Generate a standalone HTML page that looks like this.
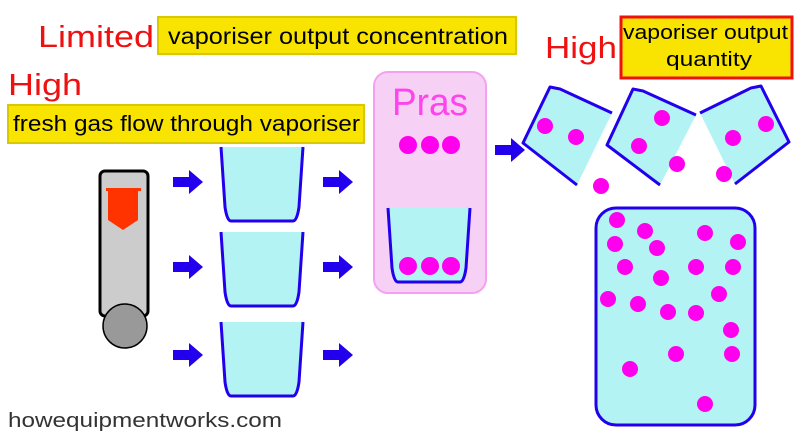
<!DOCTYPE html>
<html><head><style>body{margin:0;background:#fff}svg{display:block}text{font-family:"Liberation Sans",sans-serif}</style></head><body>
<svg width="800" height="437" viewBox="0 0 800 437" xmlns="http://www.w3.org/2000/svg">
<defs>
<path id="arr" d="M0,-5 H16 V-12 L30,0 L16,12 V5 H0 Z" fill="#2200ee"/>
<g id="cup"><path d="M0,0 L82,0 L78,60 Q76,74 72,74 L10,74 Q6,74 4,60 Z" fill="#b3f3f3"/><path d="M0,0 L4,60 Q6,74 10,74 L72,74 Q76,74 78,60 L82,0" fill="none" stroke="#2200ee" stroke-width="3"/></g>
</defs>
<text x="38" y="47" font-size="31" fill="#ee1111" textLength="116" lengthAdjust="spacingAndGlyphs">Limited</text>
<rect x="158" y="17" width="358" height="37" fill="#f8e400" stroke="#d8c800" stroke-width="2"/>
<text x="168" y="44" font-size="23" textLength="340" lengthAdjust="spacingAndGlyphs">vaporiser output concentration</text>
<text x="8" y="95" font-size="31" fill="#ee1111" textLength="74" lengthAdjust="spacingAndGlyphs">High</text>
<rect x="8" y="105" width="356" height="38" fill="#f8e400" stroke="#d8c800" stroke-width="2"/>
<text x="13" y="131" font-size="22" textLength="347" lengthAdjust="spacingAndGlyphs">fresh gas flow through vaporiser</text>
<text x="545" y="58" font-size="31" fill="#ee1111" textLength="72" lengthAdjust="spacingAndGlyphs">High</text>
<rect x="621" y="17" width="171" height="61" fill="#f8e400" stroke="#ee1111" stroke-width="3"/>
<text x="623" y="39" font-size="20" textLength="165" lengthAdjust="spacingAndGlyphs">vaporiser output</text>
<text x="666" y="66" font-size="20" textLength="86" lengthAdjust="spacingAndGlyphs">quantity</text>
<rect x="100" y="171" width="48" height="145" rx="5" fill="#cccccc" stroke="#000" stroke-width="3"/>
<path d="M106,188 H141 V191 H138 V220 L123,230 L108,220 V191 H106 Z" fill="#ff3300"/>
<circle cx="125" cy="326" r="22" fill="#999" stroke="#000" stroke-width="1.5"/>
<use href="#arr" x="173" y="182"/><use href="#arr" x="173" y="267"/><use href="#arr" x="173" y="355"/>
<use href="#arr" x="323" y="182"/><use href="#arr" x="323" y="267"/><use href="#arr" x="323" y="355"/>
<use href="#cup" x="221" y="147"/><use href="#cup" x="221" y="232"/><use href="#cup" x="221" y="322"/>
<rect x="374" y="72" width="112" height="221" rx="14" fill="#f7d0f5" stroke="#f5a0f0" stroke-width="2"/>
<text x="392" y="115" font-size="38" fill="#ff44ee" textLength="76" lengthAdjust="spacingAndGlyphs">Pras</text>
<use href="#cup" x="388" y="208"/>
<g fill="#ff00ee"><circle cx="408" cy="145" r="9"/><circle cx="430" cy="145" r="9"/><circle cx="451" cy="145" r="9"/>
<circle cx="408" cy="266" r="9"/><circle cx="430" cy="266" r="9"/><circle cx="451" cy="266" r="9"/></g>
<use href="#arr" x="495" y="150"/>
<g stroke="#2200ee" stroke-width="3" fill="#b3f3f3" stroke-linejoin="round">
<polygon points="550,87 612,113 577,185 523,143" stroke="none"/>
<polyline points="612,113 560,89 550,87 523,143 577,185" fill="none"/>
<polygon points="633,89 696,115 660,185 607,145" stroke="none"/>
<polyline points="696,115 643,91 633,89 607,145 660,185" fill="none"/>
<polygon points="700,113 761,86 789,142 735,184" stroke="none"/>
<polyline points="700,113 751,88 761,86 789,142 735,184" fill="none"/>
</g>
<rect x="596" y="208" width="159" height="217" rx="20" fill="#b3f3f3" stroke="#2200ee" stroke-width="3"/>
<g fill="#ff00ee">
<circle cx="545" cy="126" r="8"/><circle cx="576" cy="137" r="8"/><circle cx="601" cy="186" r="8"/><circle cx="662" cy="118" r="8"/><circle cx="639" cy="146" r="8"/><circle cx="677" cy="164" r="8"/><circle cx="733" cy="138" r="8"/><circle cx="766" cy="124" r="8"/><circle cx="724" cy="174" r="8"/>
<circle cx="617" cy="220" r="8"/><circle cx="645" cy="231" r="8"/><circle cx="705" cy="233" r="8"/><circle cx="738" cy="242" r="8"/><circle cx="615" cy="244" r="8"/><circle cx="657" cy="248" r="8"/><circle cx="625" cy="267" r="8"/><circle cx="696" cy="267" r="8"/><circle cx="733" cy="267" r="8"/><circle cx="661" cy="278" r="8"/><circle cx="719" cy="294" r="8"/><circle cx="608" cy="299" r="8"/><circle cx="638" cy="304" r="8"/><circle cx="668" cy="312" r="8"/><circle cx="696" cy="313" r="8"/><circle cx="731" cy="330" r="8"/><circle cx="676" cy="354" r="8"/><circle cx="732" cy="354" r="8"/><circle cx="630" cy="369" r="8"/><circle cx="705" cy="404" r="8"/>
</g>
<text x="8" y="427" font-size="20" fill="#333" textLength="274" lengthAdjust="spacingAndGlyphs">howequipmentworks.com</text>
</svg>
</body></html>
